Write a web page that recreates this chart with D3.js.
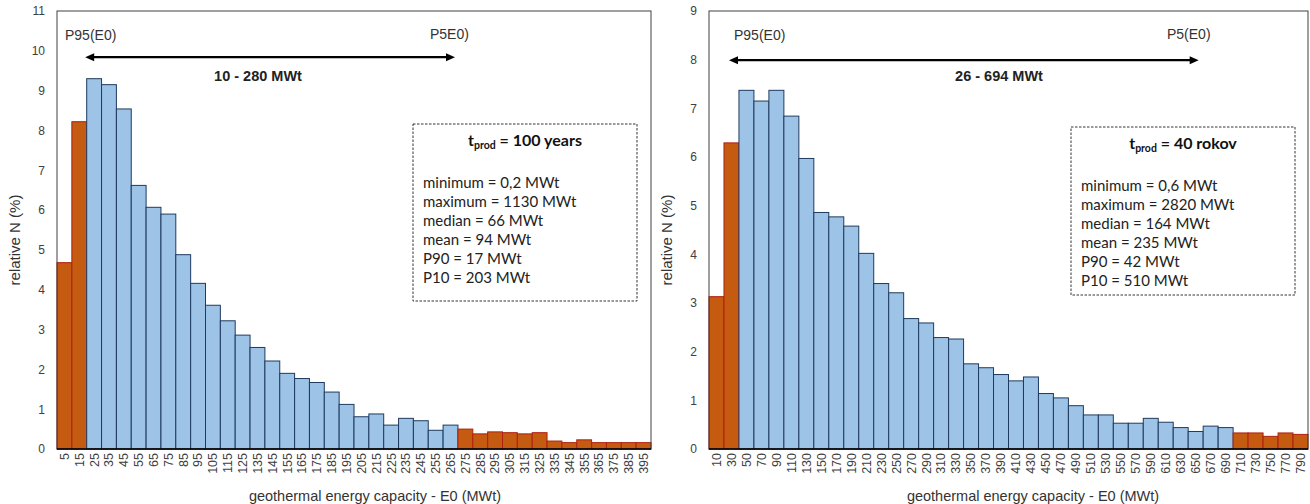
<!DOCTYPE html>
<html>
<head>
<meta charset="utf-8">
<script src="https://cdn.jsdelivr.net/npm/d3@7"></script>
<style>
  body { margin: 0; background: #fff; }
  svg text { font-family: "Liberation Sans", Arial, sans-serif; }
  .box text { font-family: Lato, "Open Sans", sans-serif; }
</style>
</head>
<body>
<div id="chart"></div>
<script>
// left panel data (t_prod = 100 years)
var leftBins = d3.range(5, 400, 10);
var leftValues = [4.68, 8.22, 9.30, 9.15, 8.54, 6.62, 6.07, 5.90, 4.88, 4.16,
  3.61, 3.22, 2.86, 2.55, 2.21, 1.90, 1.77, 1.67, 1.43, 1.12,
  0.81, 0.88, 0.60, 0.77, 0.71, 0.47, 0.60, 0.50, 0.38, 0.43,
  0.41, 0.38, 0.41, 0.20, 0.16, 0.23, 0.16, 0.16, 0.16, 0.16];
var leftOrange = [5, 15, 275, 285, 295, 305, 315, 325, 335, 345, 355, 365, 375, 385, 395];
var leftStats = ["minimum = 0,2 MWt", "maximum = 1130 MWt", "median = 66 MWt",
  "mean = 94 MWt", "P90 = 17 MWt", "P10 = 203 MWt"];

// right panel data (t_prod = 40 rokov)
var rightBins = d3.range(10, 800, 20);
var rightValues = [3.13, 6.29, 7.37, 7.15, 7.37, 6.84, 5.97, 4.86, 4.77, 4.58,
  4.02, 3.40, 3.21, 2.68, 2.59, 2.29, 2.26, 1.75, 1.67, 1.53,
  1.40, 1.48, 1.14, 1.05, 0.89, 0.70, 0.70, 0.53, 0.53, 0.63,
  0.55, 0.44, 0.36, 0.47, 0.44, 0.33, 0.33, 0.26, 0.33, 0.30];
var rightOrange = [10, 30, 710, 730, 750, 770, 790];
var rightStats = ["minimum = 0,6 MWt", "maximum = 2820 MWt", "median = 164 MWt",
  "mean = 235 MWt", "P90 = 42 MWt", "P10 = 510 MWt"];

var svg = d3.select("#chart").append("svg")
  .attr("width", 1310)
  .attr("height", 504);

function drawPanel(p) {
  var x = d3.scaleBand()
    .domain(p.bins)
    .range([p.left, p.right])
    .paddingInner(0)
    .paddingOuter(0);

  var xv = d3.scaleLinear()
    .domain(p.xDomain)
    .range([p.left, p.right]);

  var y = d3.scaleLinear()
    .domain([0, p.yMax])
    .range([449, 11]);

  var g = svg.append("g");

  // bars
  g.selectAll("rect.bar")
    .data(p.values)
    .enter().append("rect")
    .attr("class", "bar")
    .attr("x", (d, i) => x(p.bins[i]))
    .attr("y", d => y(d))
    .attr("width", x.bandwidth())
    .attr("height", d => y(0) - y(d))
    .attr("fill", (d, i) => p.orange.indexOf(p.bins[i]) >= 0 ? "#C55A11" : "#9DC3E6")
    .attr("stroke", (d, i) => p.orange.indexOf(p.bins[i]) >= 0 ? "#B02010" : "#1F3A5F")
    .attr("stroke-width", 1);

  // frame
  g.append("rect")
    .attr("x", p.left)
    .attr("y", 11)
    .attr("width", p.right - p.left)
    .attr("height", 438)
    .attr("fill", "none")
    .attr("stroke", "#404040")
    .attr("stroke-width", 1);

  g.append("line")
    .attr("x1", p.left).attr("x2", p.right)
    .attr("y1", 449).attr("y2", 449)
    .attr("stroke", "#000").attr("stroke-width", 1.5);

  // y axis
  var yAxis = g.append("g")
    .attr("transform", `translate(${p.left},0)`)
    .call(d3.axisLeft(y).ticks(p.yMax).tickSize(0).tickPadding(12));
  yAxis.select(".domain").remove();
  yAxis.selectAll("text").attr("fill", "#404040").style("font-size", "12px");

  // x axis
  var xAxis = g.append("g")
    .attr("transform", "translate(0,449)")
    .call(d3.axisBottom(x).tickSize(0));
  xAxis.select(".domain").remove();
  xAxis.selectAll("text")
    .attr("fill", "#404040")
    .style("font-size", "12.5px")
    .style("text-anchor", "end")
    .attr("transform", "rotate(-90)")
    .attr("x", -4)
    .attr("y", 0)
    .attr("dy", "0.35em");

  // axis titles
  g.append("text")
    .attr("transform", `translate(${p.left - 42},240) rotate(-90)`)
    .attr("text-anchor", "middle")
    .attr("dy", "0.35em")
    .attr("fill", "#333")
    .style("font-size", "15px")
    .text("relative N (%)");

  g.append("text")
    .attr("x", p.xTitle)
    .attr("y", 496)
    .attr("text-anchor", "middle")
    .attr("dy", "0.35em")
    .attr("fill", "#333")
    .style("font-size", "14.5px")
    .text("geothermal energy capacity - E0 (MWt)");

  // range arrow
  var ay = y(p.arrowY);
  var ax1 = xv(p.arrow[0]), ax2 = xv(p.arrow[1]);
  g.append("line")
    .attr("x1", ax1 + 6).attr("x2", ax2 - 6)
    .attr("y1", ay).attr("y2", ay)
    .attr("stroke", "#000").attr("stroke-width", 2.2);
  g.append("path")
    .attr("d", `M${ax1},${ay} l9,-4 l0,8 z`)
    .attr("fill", "#000");
  g.append("path")
    .attr("d", `M${ax2},${ay} l-9,-4 l0,8 z`)
    .attr("fill", "#000");

  g.append("text")
    .attr("x", p.p95x).attr("y", 35)
    .attr("dy", "0.35em")
    .attr("fill", "#333")
    .style("font-size", "14px")
    .text("P95(E0)");
  g.append("text")
    .attr("x", p.p5x).attr("y", 34)
    .attr("dy", "0.35em")
    .attr("fill", "#333")
    .style("font-size", "14px")
    .text(p.p5label);
  g.append("text")
    .attr("x", p.rangeX).attr("y", 76)
    .attr("dy", "0.35em")
    .attr("text-anchor", "middle")
    .attr("fill", "#222")
    .style("font-size", "14.5px")
    .style("font-weight", "bold")
    .text(p.rangeLabel);

  // stats box
  var box = g.append("g").attr("class", "box");
  box.append("rect")
    .attr("x", p.box[0]).attr("y", p.box[1])
    .attr("width", p.box[2]).attr("height", p.box[3])
    .attr("fill", "#fff")
    .attr("stroke", "#333")
    .attr("stroke-width", 1)
    .attr("stroke-dasharray", "2.5,1.5");

  var title = box.append("text")
    .attr("x", p.box[0] + p.box[2] / 2)
    .attr("y", p.box[1] + 16)
    .attr("dy", "0.35em")
    .attr("text-anchor", "middle")
    .attr("fill", "#111")
    .style("font-size", "16px")
    .style("font-weight", "bold");
  title.append("tspan").text("t");
  title.append("tspan").attr("dy", "3").style("font-size", "10.5px").text("prod");
  title.append("tspan").attr("dy", "-3").text(" = " + p.boxTitle);

  box.selectAll("text.stat")
    .data(p.stats)
    .enter().append("text")
    .attr("class", "stat")
    .attr("x", p.box[0] + 10)
    .attr("y", (d, i) => p.box[1] + 59 + i * 19)
    .attr("dy", "0.35em")
    .attr("fill", "#222")
    .style("font-size", "15px")
    .text(d => d);
}

drawPanel({
  bins: leftBins, values: leftValues, orange: leftOrange, stats: leftStats,
  left: 57, right: 651, xDomain: [0, 400], yMax: 11,
  xTitle: 375,
  arrow: [19, 268], arrowY: 9.84,
  p95x: 65, p5x: 430, p5label: "P5E0)",
  rangeX: 258, rangeLabel: "10 - 280 MWt",
  box: [413, 124, 224, 177], boxTitle: "100 years"
});

drawPanel({
  bins: rightBins, values: rightValues, orange: rightOrange, stats: rightStats,
  left: 709, right: 1308, xDomain: [0, 800], yMax: 9,
  xTitle: 1033,
  arrow: [26.7, 654], arrowY: 7.99,
  p95x: 734, p5x: 1167, p5label: "P5(E0)",
  rangeX: 999, rangeLabel: "26 - 694 MWt",
  box: [1071, 127, 224, 168], boxTitle: "40 rokov"
});
</script>
</body>
</html>
